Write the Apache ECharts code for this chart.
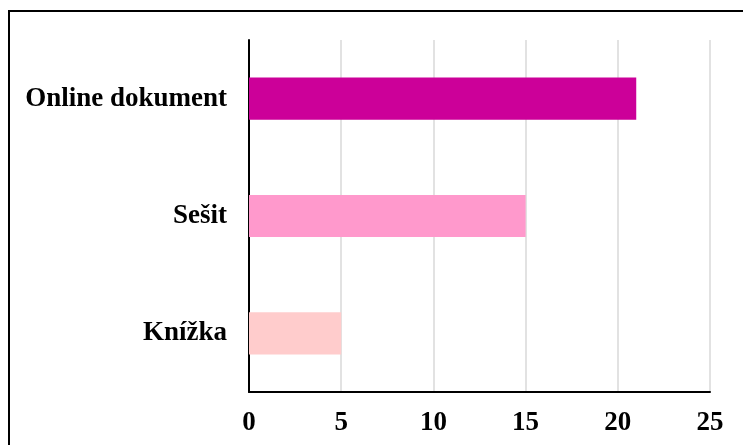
<!DOCTYPE html>
<html>
<head>
<meta charset="utf-8">
<script src="https://cdn.jsdelivr.net/npm/echarts@6/dist/echarts.min.js"></script>
<style>
  html, body { margin: 0; padding: 0; background: #fff; }
</style>
</head>
<body>
<div id="chart" style="width:743px; height:445px;"></div>
<script>
// data
const categories = ['Online dokument', 'Sešit', 'Knížka'];
const values = [21, 15, 5];
const barColors = ['#cc0099', '#ff99cc', '#ffcccc'];
const xTicks = [0, 5, 10, 15, 20, 25];

const labelFont = {
  color: '#000',
  fontFamily: '"Liberation Serif", "Times New Roman", serif',
  fontWeight: 'bold',
  fontSize: 27
};

const myChart = echarts.init(document.getElementById('chart'));

const option = {
  animation: false,
  backgroundColor: '#fff',
  grid: {
    left: 249,
    right: 33,
    top: 40,
    bottom: 53
  },
  graphic: [
    {
      type: 'rect',
      z: -1,
      shape: { x: 9, y: 11, width: 800, height: 500 },
      style: { fill: 'none', stroke: '#000', lineWidth: 2 }
    }
  ],
  xAxis: {
    type: 'value',
    min: xTicks[0],
    max: xTicks[xTicks.length - 1],
    interval: xTicks[1] - xTicks[0],
    axisLine: { show: true, lineStyle: { color: '#000', width: 2 } },
    axisTick: { show: false },
    splitLine: { lineStyle: { color: '#d9d9d9', width: 1.5 } },
    axisLabel: Object.assign({ margin: 18 }, labelFont)
  },
  yAxis: {
    type: 'category',
    inverse: true,
    data: categories,
    axisLine: { show: true, lineStyle: { color: '#000', width: 2 } },
    axisTick: { show: false },
    splitLine: { show: false },
    axisLabel: Object.assign({ margin: 22 }, labelFont)
  },
  series: [
    {
      type: 'bar',
      data: values,
      barCategoryGap: '64%',
      itemStyle: {
        color: (p) => barColors[p.dataIndex]
      }
    }
  ]
};

myChart.setOption(option);
</script>
</body>
</html>
